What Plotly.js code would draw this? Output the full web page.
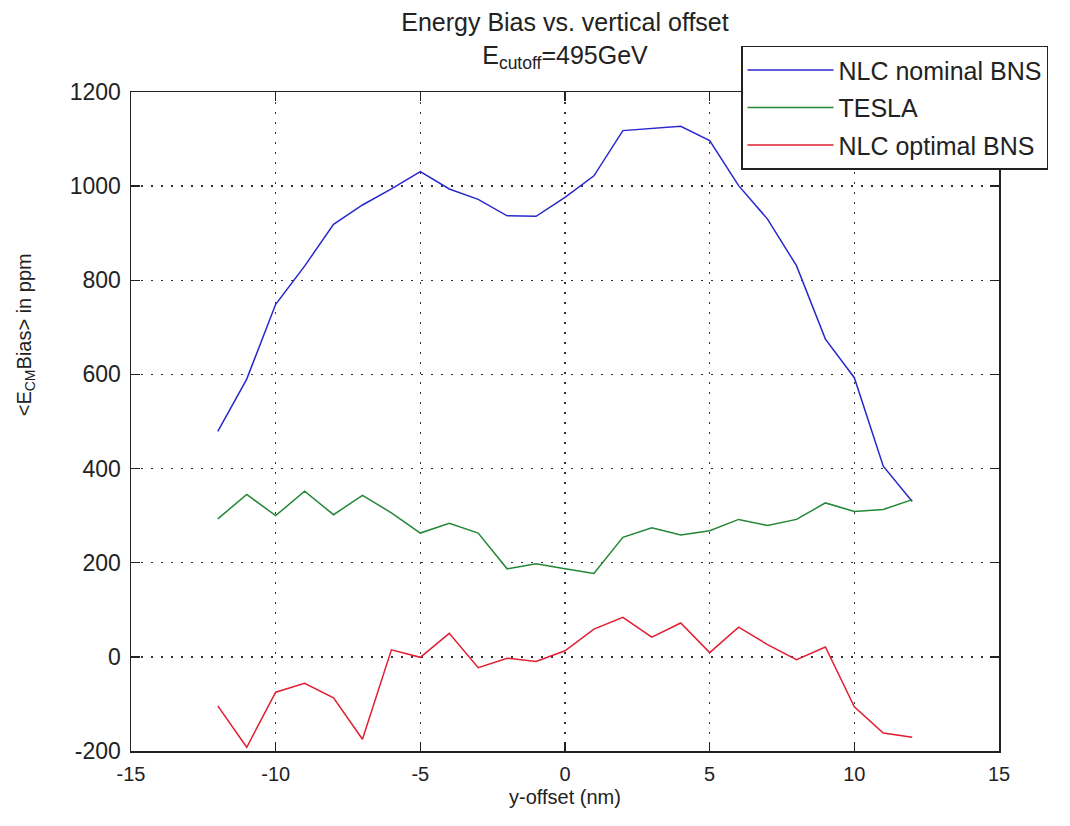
<!DOCTYPE html>
<html>
<head>
<meta charset="utf-8">
<script src="https://cdn.plot.ly/plotly-3.0.1.min.js"></script>
<style>html,body{margin:0;padding:0;background:#fff;}#chart{width:1070px;height:826px;}</style>
</head>
<body>
<div id="chart"></div>
<script>
const yOffset = [-12,-11,-10,-9,-8,-7,-6,-5,-4,-3,-2,-1,0,1,2,3,4,5,6,7,8,9,10,11,12];
const nlcNominal = [479,590,749,830,919,960,994,1031,994,972,937,936,976,1022,1118,1123,1127,1097,1001,930,831,675,593,405,330];
const tesla = [293,345,300,352,302,343,306,263,284,263,187,198,187,177,254,274,259,268,292,279,292,327,309,313,334];
const nlcOptimal = [-104,-192,-75,-56,-87,-175,15,-1,50,-23,-3,-10,13,59,84,42,72,9,63,26,-6,21,-106,-162,-171];
const seriesNames = ["NLC nominal BNS","TESLA","NLC optimal BNS"];
const seriesColors = ["rgb(40,40,205)","rgb(35,135,55)","rgb(225,30,50)"];
const xTicks = [-15,-10,-5,0,5,10,15];
const yTicks = [-200,0,200,400,600,800,1000,1200];

const allY = [nlcNominal, tesla, nlcOptimal];
const traces = allY.map((ys,i)=>({
  x: yOffset, y: ys, type:'scatter', mode:'lines', name: seriesNames[i],
  legendgroup:'g'+i,
  line:{color: seriesColors[i], width:1.5}
}));

const axisCommon = {
  showline:true, linecolor:'#222', linewidth:1.5, mirror:'ticks',
  ticks:'inside', ticklen:9, tickcolor:'#222', tickwidth:1.5,
  showgrid:true, gridcolor:'#333', griddash:'2px,8px', gridwidth:1.5,
  zeroline:false
};

const layout = {
  width:1070, height:826,
  margin:{l:131, r:71, t:92, b:75},
  paper_bgcolor:'#fff', plot_bgcolor:'#fff',
  font:{family:'Liberation Sans, Arial, sans-serif', size:20, color:'#222'},
  title:{text:'Energy Bias vs. vertical offset<br>E<sub>cutoff</sub>=495GeV', x:0.528, xanchor:'center', y:0.962, yanchor:'middle', yref:'container', font:{size:25, color:'#222'}},
  xaxis: Object.assign({}, axisCommon, {
    range:[-15,15], tickvals:xTicks, ticktext:xTicks.map(String),
    tickfont:{size:20}, ticklabelstandoff:4,
    title:{text:'y-offset (nm)', font:{size:20}, standoff:6}
  }),
  yaxis: Object.assign({}, axisCommon, {
    range:[-200,1200], tickvals:yTicks, ticktext:yTicks.map(String),
    tickfont:{size:23}, ticklabelstandoff:4
  }),
  annotations:[{
    text:'&lt;E<sub>CM</sub>Bias&gt; in ppm', textangle:-90, xref:'paper', yref:'paper',
    x:-0.122, y:0.631, xanchor:'center', yanchor:'middle', showarrow:false,
    font:{size:20, color:'#222'}
  }],
  showlegend:true,
  legend:{x:(741-131)/868, xanchor:'left', xref:'paper', y:1.07, yanchor:'top', bgcolor:'#fff', bordercolor:'#222', borderwidth:1.5,
    font:{size:25, color:'#222'}, itemwidth:86, traceorder:'grouped', tracegroupgap:2}
};

Plotly.newPlot('chart', traces, layout, {displayModeBar:false, staticPlot:true});
</script>
</body>
</html>
